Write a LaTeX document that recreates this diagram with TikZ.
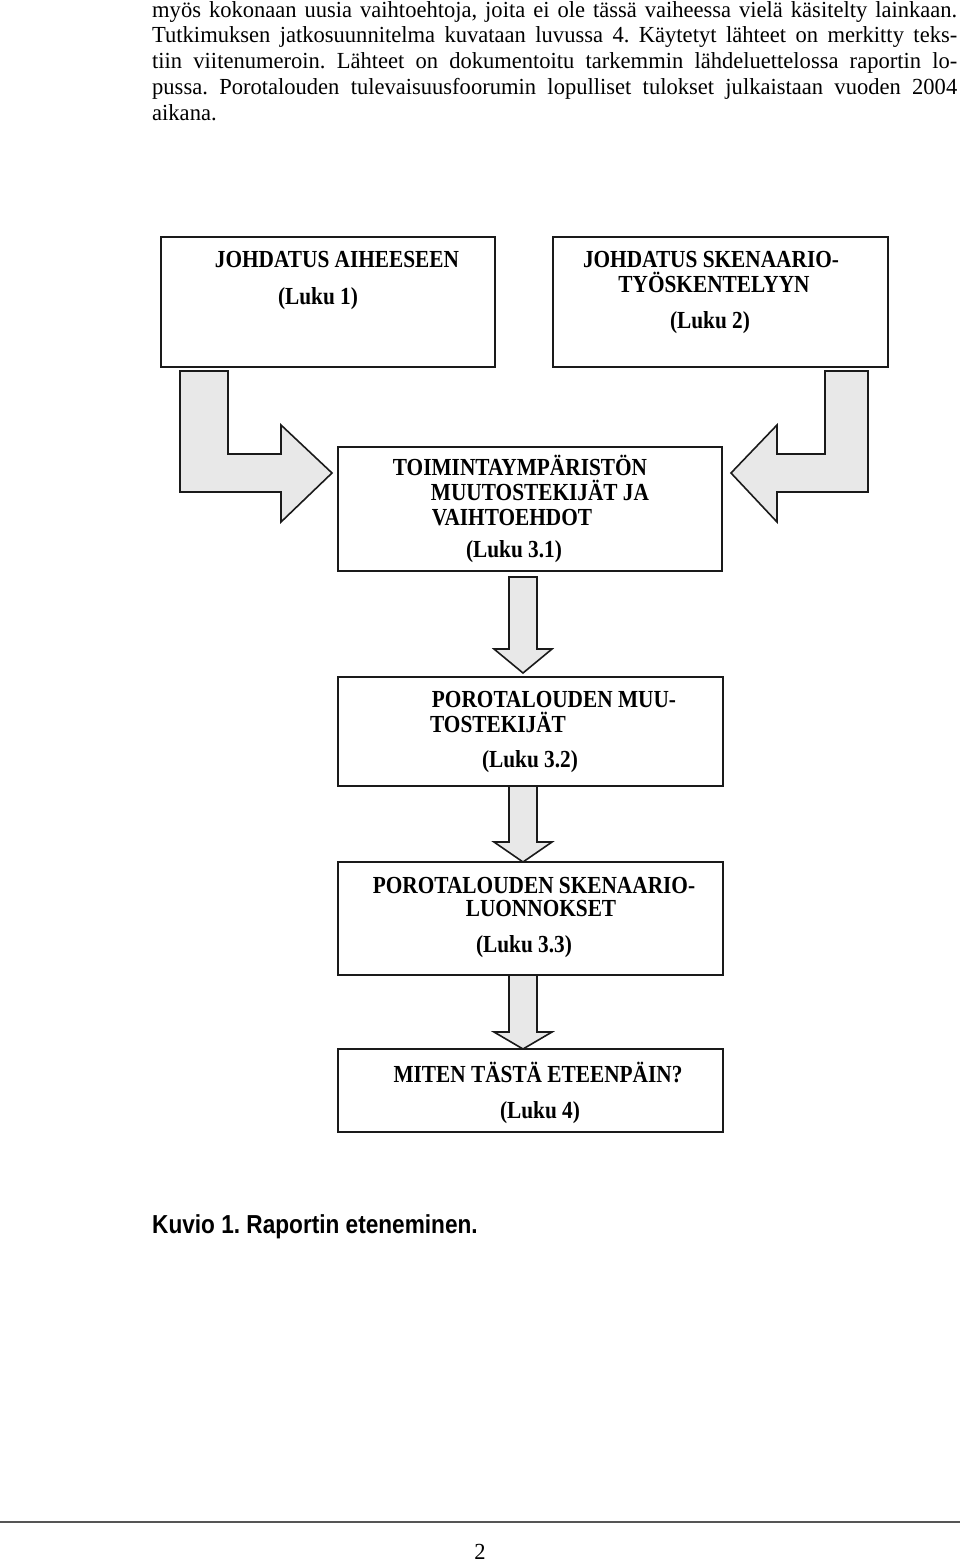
\documentclass[tikz,border=0pt]{standalone}
\usepackage{fontspec}
\setmainfont{Liberation Serif}[FakeStretch=0.87]
\newfontfamily\bodyfont{Liberation Serif}[FakeStretch=0.98]
\newfontfamily\capfont{Liberation Sans}[FakeStretch=0.87]
\definecolor{arrowfill}{HTML}{E8E8E8}
\definecolor{edge}{HTML}{1A1A1A}
\definecolor{rulecol}{HTML}{555555}
\frenchspacing
\begin{document}
\begin{tikzpicture}[x=1pt,y=-1pt,
  box/.style={draw=edge,line width=2pt,rectangle,inner sep=0pt,outer sep=0pt,anchor=north west},
  boxtext/.style={inner sep=0pt,anchor=base,font=\fontsize{24.5}{26}\selectfont\bfseries},
  bodyline/.style={inner sep=0pt,anchor=base west,font=\bodyfont\fontsize{23}{25.8}\selectfont},
  blockarrow/.style={draw=edge,fill=arrowfill,line width=1.6pt,line join=miter}]
\useasboundingbox (0,0) rectangle (960,1561);

% body text
\node[bodyline] (p1) at (152,17) {\makebox[805pt][s]{myös kokonaan uusia vaihtoehtoja, joita ei ole tässä vaiheessa vielä käsitelty lainkaan.}};
\node[bodyline] (p2) at (152,42.8) {\makebox[805pt][s]{Tutkimuksen jatkosuunnitelma kuvataan luvussa 4. Käytetyt lähteet on merkitty teks-}};
\node[bodyline] (p3) at (152,68.6) {\makebox[805pt][s]{tiin viitenumeroin. Lähteet on dokumentoitu tarkemmin lähdeluettelossa raportin lo-}};
\node[bodyline] (p4) at (152,94.4) {\makebox[805pt][s]{pussa. Porotalouden tulevaisuusfoorumin lopulliset tulokset julkaistaan vuoden 2004}};
\node[bodyline] (p5) at (152,120.2) {aikana.};

% boxes
\node[box,minimum width=334pt,minimum height=130pt] (b1) at (161,237) {};
\node[box,minimum width=335pt,minimum height=130pt] (b2) at (553,237) {};
\node[box,minimum width=384pt,minimum height=124pt] (b3) at (338,447) {};
\node[box,minimum width=385pt,minimum height=109pt] (b4) at (338,677) {};
\node[box,minimum width=385pt,minimum height=113pt] (b5) at (338,862) {};
\node[box,minimum width=385pt,minimum height=83pt] (b6) at (338,1049) {};

% box texts
\node[boxtext] (t1a) at (337,267) {JOHDATUS AIHEESEEN};
\node[boxtext] (t1b) at (318,304) {(Luku 1)};
\node[boxtext] (t2a) at (711,267) {JOHDATUS SKENAARIO-};
\node[boxtext] (t2b) at (714,292) {TYÖSKENTELYYN};
\node[boxtext] (t2c) at (710,328) {(Luku 2)};
\node[boxtext] (t3a) at (520,475) {TOIMINTAYMPÄRISTÖN};
\node[boxtext] (t3b) at (540,500) {MUUTOSTEKIJÄT JA};
\node[boxtext] (t3c) at (512,525) {VAIHTOEHDOT};
\node[boxtext] (t3d) at (514,557) {(Luku 3.1)};
\node[boxtext] (t4a) at (554,707) {POROTALOUDEN MUU-};
\node[boxtext] (t4b) at (498,732) {TOSTEKIJÄT};
\node[boxtext] (t4c) at (530,767) {(Luku 3.2)};
\node[boxtext] (t5a) at (534,893) {POROTALOUDEN SKENAARIO-};
\node[boxtext] (t5b) at (541,916) {LUONNOKSET};
\node[boxtext] (t5c) at (524,952) {(Luku 3.3)};
\node[boxtext] (t6a) at (538,1082) {MITEN TÄSTÄ ETEENPÄIN?};
\node[boxtext] (t6b) at (540,1118) {(Luku 4)};

% L-shaped block arrows
\draw[blockarrow] (180,371) -- (228,371) -- (228,454) -- (281,454) -- (281,425)
  -- (332,473) -- (281,522) -- (281,492) -- (180,492) -- cycle;
\draw[blockarrow] (868,371) -- (825,371) -- (825,454) -- (777,454) -- (777,425)
  -- (731,473) -- (777,522) -- (777,492) -- (868,492) -- cycle;

% down block arrows
\draw[blockarrow] (509,577) -- (537,577) -- (537,649) -- (552,649) -- (523,673)
  -- (494,649) -- (509,649) -- cycle;
\draw[blockarrow] (509,786) -- (537,786) -- (537,842) -- (552,842) -- (523,862)
  -- (494,842) -- (509,842) -- cycle;
\draw[blockarrow] (509,975) -- (537,975) -- (537,1032) -- (552,1032) -- (523,1049)
  -- (494,1032) -- (509,1032) -- cycle;

% caption
\node[inner sep=0pt,anchor=base west,font=\capfont\fontsize{26}{28}\selectfont\bfseries] (cap) at (152,1233) {Kuvio 1. Raportin eteneminen.};

% footer
\coordinate (rl) at (0,1522);
\coordinate (rr) at (960,1522);
\draw[rulecol,line width=1.5pt] (rl) -- (rr);
\node[inner sep=0pt,anchor=base,font=\bodyfont\fontsize{23}{26}\selectfont] (pg) at (480,1559) {2};
\end{tikzpicture}
\end{document}
